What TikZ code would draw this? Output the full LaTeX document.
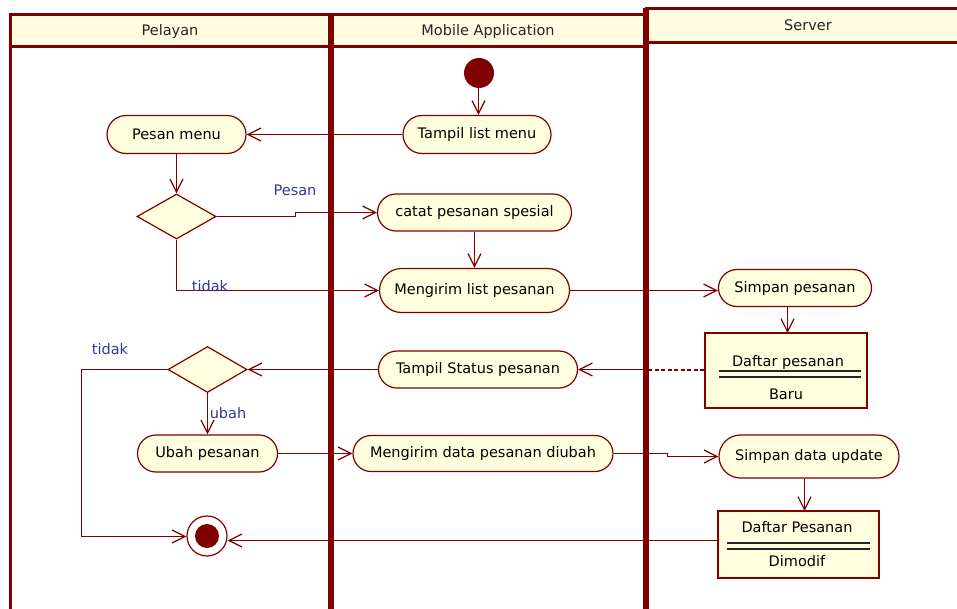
\documentclass[tikz,border=0pt]{standalone}
\usepackage{fontspec}
\setmainfont{DejaVu Sans}
\usetikzlibrary{shapes.misc,shapes.geometric,arrows.meta}
\definecolor{dred}{HTML}{800000}
\definecolor{nodefill}{HTML}{FFFFE0}
\definecolor{headfill}{HTML}{FFFCE1}
\definecolor{guardblue}{HTML}{35359A}
\tikzset{
  lane/.style={draw=dred, line width=5.5pt},
  laneedge/.style={draw=dred, line width=3pt},
  lanetitle/.style={font=\fontsize{14.5}{16}\selectfont, text=black!85},
  act/.style={rounded rectangle, draw=dred, fill=nodefill, line width=1.2pt,
    inner sep=0pt, font=\fontsize{14.5}{16}\selectfont},
  choice/.style={diamond, draw=dred, fill=nodefill, line width=1.2pt, inner sep=0pt},
  objbox/.style={draw=dred, fill=nodefill, line width=1.2pt, inner sep=0pt},
  objtext/.style={font=\fontsize{14.5}{16}\selectfont},
  flow/.style={draw=dred, line width=1.3pt, -{Straight Barb[length=13pt,width=13pt,line width=1.2pt]}},
  guard/.style={font=\fontsize{14.5}{16}\selectfont, text=guardblue},
}
\begin{document}
\begin{tikzpicture}[x=1pt,y=-1pt]
\useasboundingbox (0,0) rectangle (957,608);
\clip (0,0) rectangle (957,608);

% swimlane headers
\fill[headfill] (10,14) rectangle (331,46);
\fill[headfill] (331,14) rectangle (645,46);
\fill[headfill] (645,8) rectangle (960,42);
\node[lanetitle] (hpel) at (170,31) {Pelayan};
\node[lanetitle] (hmob) at (488,31) {Mobile Application};
\node[lanetitle] (hsrv) at (808,25) {Server};

% swimlane frame
\draw[laneedge] (10,620) -- (10,14) -- (645,14);
\draw[laneedge] (645,8) -- (960,8);
\draw[laneedge] (10,46) -- (645,46);
\draw[laneedge] (645,42) -- (960,42);
\draw[lane] (331,14) -- (331,620);
\draw[lane] (646,8) -- (646,620);

% initial and final nodes
\fill[dred] (479,73) circle (15);
\coordinate (init) at (478.5,88);
\node[circle, draw=dred, fill=white, line width=1.2pt, minimum size=40pt, inner sep=0pt] (final) at (207,536) {};
\fill[dred] (final.center) circle (12);

% actions
\node[act, minimum width=148, minimum height=38] (tampil) at (477,134.5) {Tampil list menu};
\node[act, minimum width=139, minimum height=38] (pesan) at (176.5,134.5) {Pesan menu};
\node[act, minimum width=194, minimum height=37] (catat) at (474.5,212.5) {catat pesanan spesial};
\node[act, minimum width=190, minimum height=44] (kirim) at (474.5,290.5) {Mengirim list pesanan};
\node[act, minimum width=153, minimum height=37] (simpan) at (795,288) {Simpan pesanan};
\node[act, minimum width=199, minimum height=37] (status) at (478,369.5) {Tampil Status pesanan};
\node[act, minimum width=140, minimum height=37] (ubah) at (207.5,453.5) {Ubah pesanan};
\node[act, minimum width=260, minimum height=36] (kirimdata) at (483,453.5) {Mengirim data pesanan diubah};
\node[act, minimum width=180, minimum height=43] (simpandata) at (809,456.5) {Simpan data update};

% decisions
\node[choice, minimum width=79, minimum height=45] (d1) at (176.5,216.5) {};
\node[choice, minimum width=79, minimum height=46] (d2) at (207.5,369.5) {};

% object nodes
\node[objbox, minimum width=162, minimum height=75] (obj1) at (786,370.5) {};
\node[objtext] (obj1name) at (788,362) {Daftar pesanan};
\node[objtext] (obj1state) at (786,394) {Baru};
\draw[black!85, line width=1.3pt] (719,371) -- (861,371) (719,377) -- (861,377);

\node[objbox, minimum width=161, minimum height=67] (obj2) at (798.5,544.5) {};
\node[objtext] (obj2name) at (797,527) {Daftar Pesanan};
\node[objtext] (obj2state) at (797,561) {Dimodif};
\draw[black!85, line width=1.3pt] (727,543) -- (870,543) (727,549) -- (870,549);

% control flow
\draw[flow] (init) -- (tampil.north -| init);
\draw[flow] (tampil.west) -- (pesan.east);
\draw[flow] (pesan.south) -- (d1.north);
\draw[flow] (d1.east) -- (295.5,216.5) -- (295.5,212.5) -- (catat.west);
\node[guard] (gpesan) at (295,190) {Pesan};
\draw[flow] (d1.south) |- (kirim.west);
\node[guard] (gtidak1) at (210,286) {tidak};
\draw[flow] (catat.south) -- (kirim.north);
\draw[flow] (kirim.east) -- (simpan.west |- kirim.east);
\draw[flow] (simpan.south -| 787.5,0) -- (787.5,333);

% object flow to the status screen
\coordinate (lanecross) at (646,369.5);
\draw[draw=dred, line width=2pt, dash pattern=on 4pt off 2.5pt] (obj1.west |- lanecross) -- (lanecross);
\draw[flow] (lanecross) -- (status.east);
\draw[flow] (status.west) -- (d2.east);

\coordinate (bendtop) at (81.5,369.5);
\coordinate (bendbot) at (81.5,536.5);
\draw[flow] (d2.west) -- (bendtop) -- (bendbot) -- (final.west |- bendbot);
\node[guard] (gtidak2) at (110,349) {tidak};
\draw[flow] (d2.south) -- (ubah.north);
\node[guard] (gubah) at (228,413) {ubah};

\draw[flow] (ubah.east) -- (kirimdata.west);
\draw[flow] (kirimdata.east) -- (667.5,453.5) -- (667.5,456.5) -- (simpandata.west);
\draw[flow] (simpandata.south -| 804.5,0) -- (804.5,511);
\draw[flow] (obj2.west |- 0,540.5) -- (final.east |- 0,540.5);
\end{tikzpicture}
\end{document}
